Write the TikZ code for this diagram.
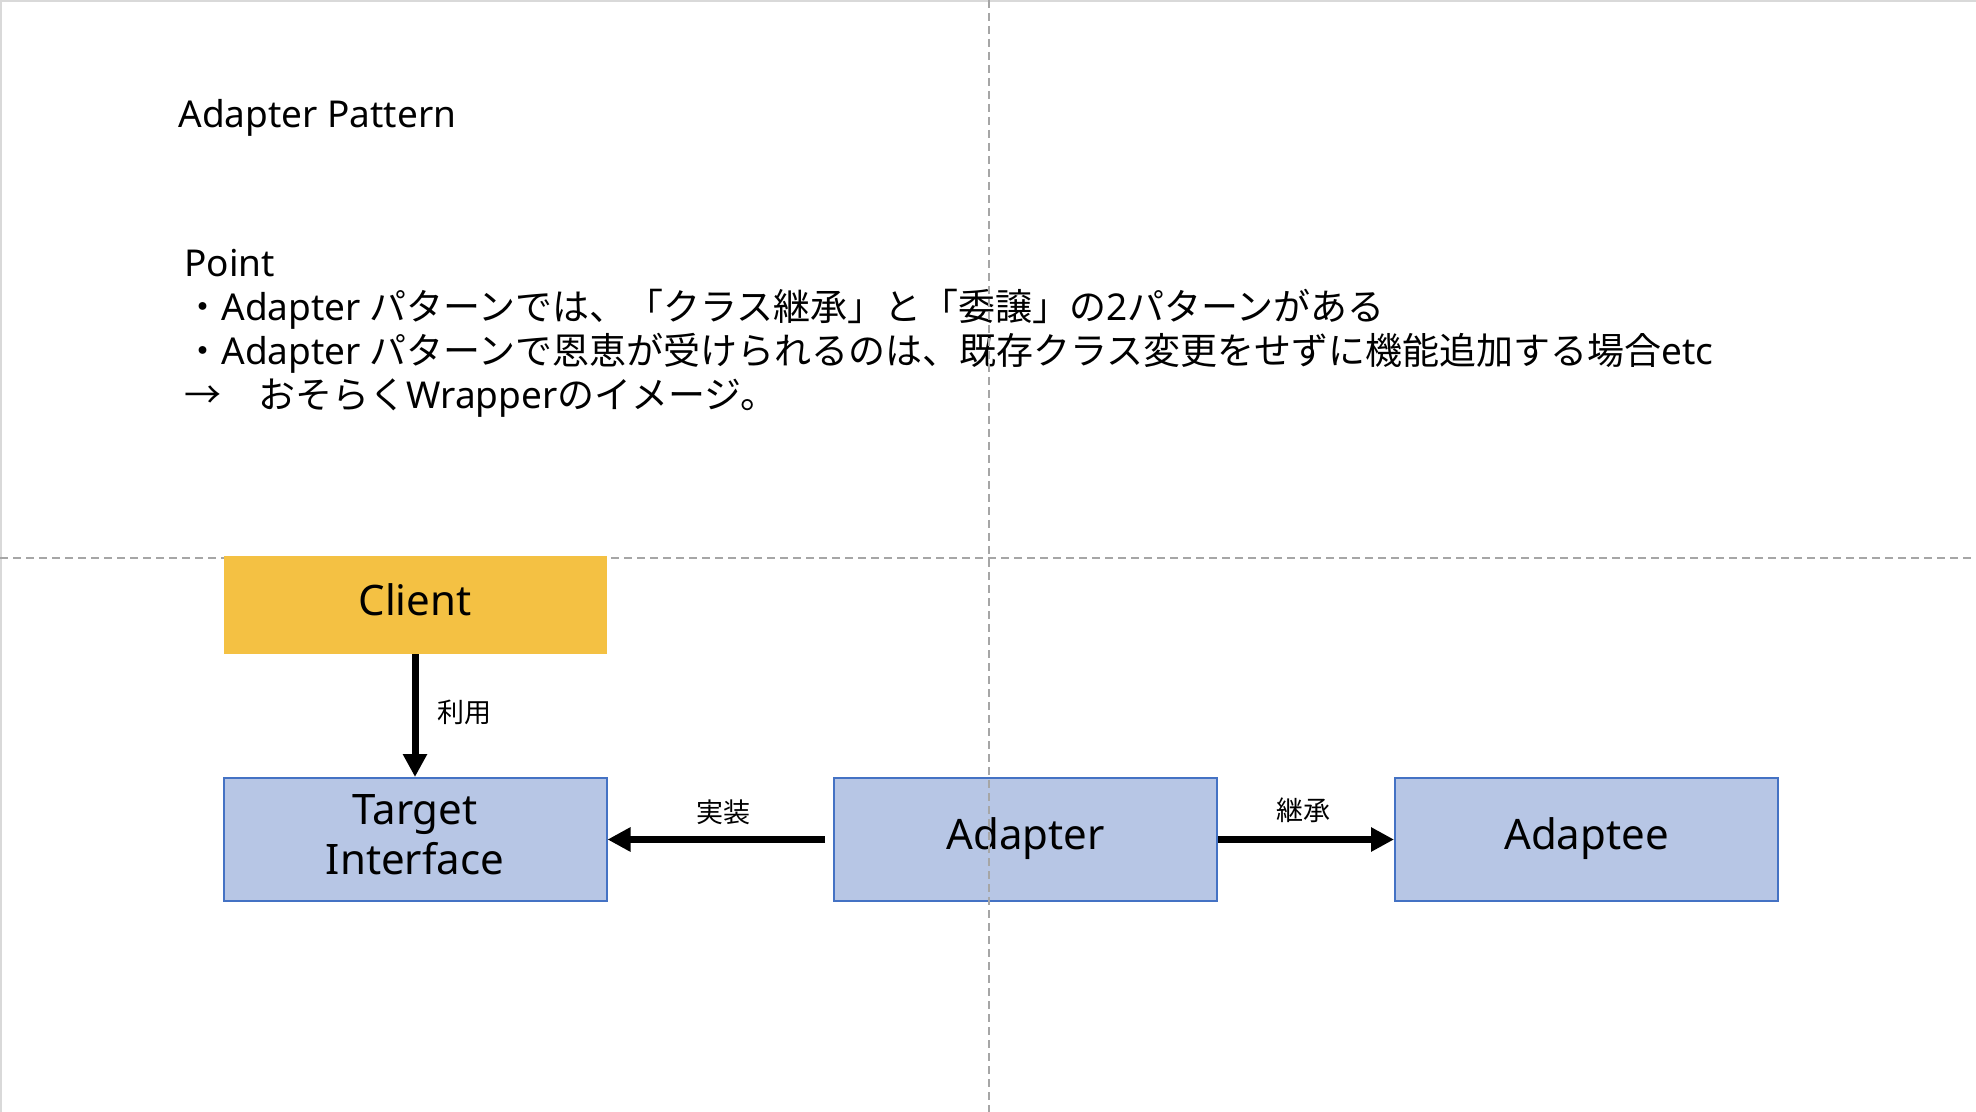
\documentclass[tikz,border=0pt]{standalone}
\usepackage{fontspec}
\setmainfont{Noto Sans CJK JP}
\newfontfamily\lat{Noto Sans}
\usetikzlibrary{arrows.meta}
\definecolor{clientfill}{HTML}{F4C143}
\definecolor{boxfill}{HTML}{B7C6E5}
\definecolor{boxline}{HTML}{4472C4}
\definecolor{guide}{HTML}{A6A6A6}
\definecolor{framegray}{HTML}{D9D9D9}
\newcommand{\uplift}[1]{\raisebox{2pt}{\begin{tabular}{@{}c@{}}#1\end{tabular}}}
\begin{document}
\begin{tikzpicture}[x=0.5pt,y=-0.5pt,
  txt/.style={inner sep=0pt, anchor=base west, font=\fontsize{18.5pt}{22pt}\selectfont},
  cls/.style={minimum width=191.5pt, minimum height=61.5pt, inner sep=0pt, align=center, font=\lat\fontsize{21pt}{25pt}\selectfont},
  bluebox/.style={cls, fill=boxfill, draw=boxline, line width=1pt},
  rel/.style={line width=3.5pt, -{Triangle[length=11.5pt,width=11.5pt]}},
  lbl/.style={inner sep=0pt, font=\fontsize{13.5pt}{16pt}\selectfont},
  guideline/.style={draw=guide, line width=1pt, dash pattern=on 4pt off 2.5pt}]
\useasboundingbox (0,0) rectangle (1976,1112);
\fill[white] (0,0) rectangle (1976,1112);
\fill[framegray] (0,0) rectangle (1976,2);
\fill[framegray] (0,0) rectangle (2,1112);
\draw[guideline] (0,558) -- (1976,558);

\node[txt, font=\lat\fontsize{18.5pt}{22pt}\selectfont] (title) at (178,128) {Adapter Pattern};
\node[txt] (point) at (184,277) {{\lat Point}};
\node[txt] (l1) at (184,321) {・{\lat Adapter} パターンでは、「クラス継承」と「委譲」の{\lat 2}パターンがある};
\node[txt] (l2) at (184,365) {・{\lat Adapter} パターンで恩恵が受けられるのは、既存クラス変更をせずに機能追加する場合{\lat etc}};
\node[txt] (l3) at (184,409) {→　おそらく{\lat Wrapper}のイメージ。};

\node[cls, fill=clientfill, minimum height=49pt] (client) at (415,605) {\uplift{Client}};
\node[bluebox] (target) at (415,839.5) {\uplift{Target\\Interface}};
\node[bluebox] (adapter) at (1025.5,839.5) {\uplift{Adapter}};
\node[bluebox] (adaptee) at (1586.5,839.5) {\uplift{Adaptee}};

\draw[rel] (client.south) -- (target.north);
\draw[rel, shorten <=4pt] (adapter.west) -- (target.east);
\draw[rel] (adapter.east) -- (adaptee.west);

\node[lbl] (use) at (464,712) {利用};
\node[lbl] (impl) at (723,812) {実装};
\node[lbl] (inh) at (1303,810) {継承};

\draw[guideline] (989,0) -- (989,1112);
\end{tikzpicture}
\end{document}
